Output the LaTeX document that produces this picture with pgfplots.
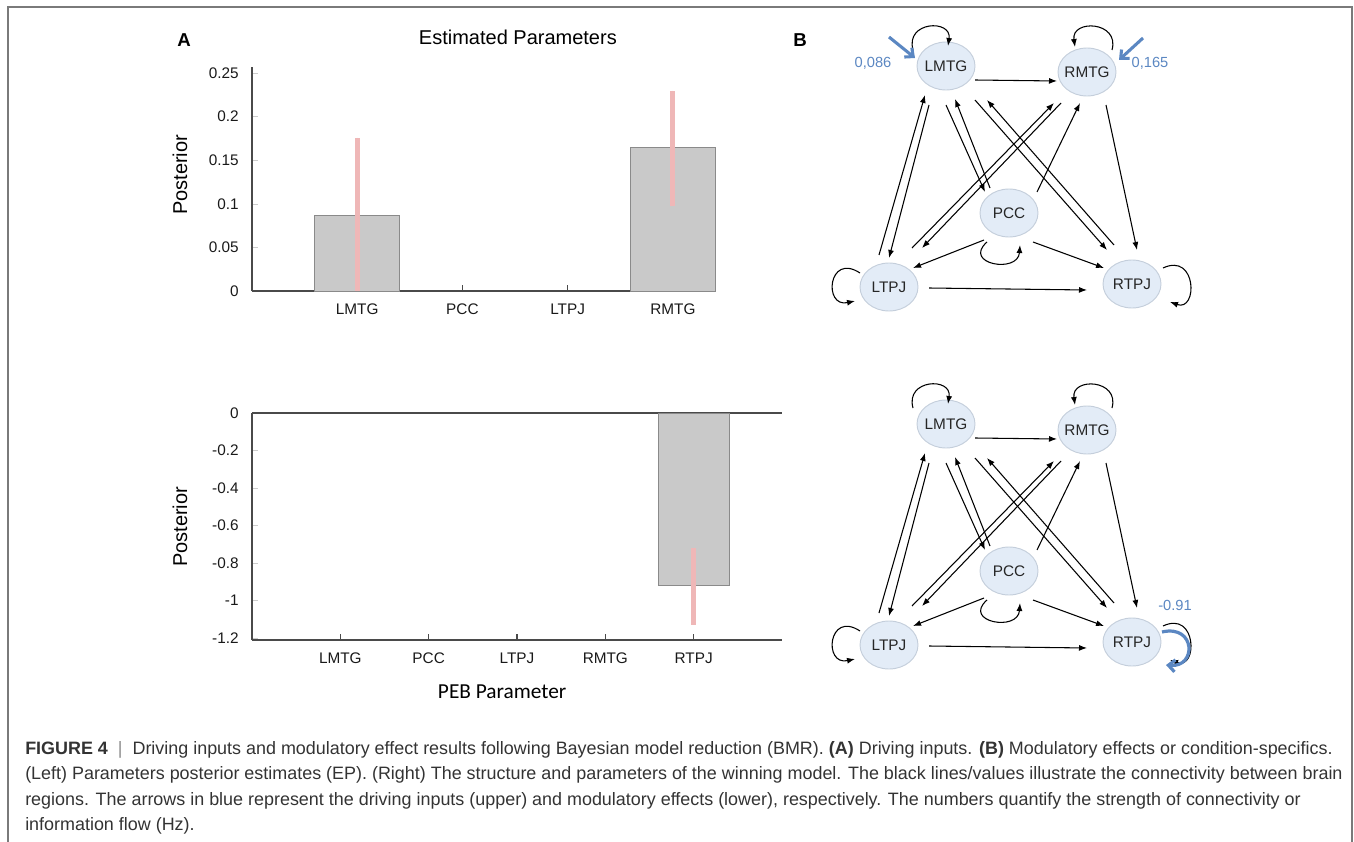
\documentclass[border=0pt]{standalone}
\usepackage{pgfplots}
\pgfplotsset{compat=1.18}
\usepackage{fontspec}
\setmainfont{Liberation Sans}
\newfontfamily\calibri{Carlito}
\usetikzlibrary{arrows.meta}

\definecolor{bargray}{HTML}{C9C9C9}
\definecolor{baredge}{HTML}{8A8A8A}
\definecolor{errpink}{HTML}{EFB7B7}
\definecolor{axisgray}{HTML}{4A4A4A}
\definecolor{nodefill}{HTML}{E3ECF7}
\definecolor{nodeedge}{HTML}{C4CEDB}
\definecolor{inblue}{HTML}{5B87C2}
\definecolor{captext}{HTML}{333333}
\definecolor{framegray}{HTML}{7A7A7A}

% one picture pixel = 0.75pt
\pgfplotsset{
  barchart/.style={
    scale only axis,
    axis line style={axisgray, line width=0.9pt, -},
    every tick/.style={axisgray, line width=0.8pt},
    ytick style={black!20, line width=0.4pt},
    tick label style={font=\fontsize{11.5}{13}\selectfont, text=black!90},
    yticklabel style={xshift=-6.5pt},
    xticklabel style={yshift=-6pt},
    ylabel style={font=\fontsize{15}{18}\selectfont},
    clip=false,
  },
}

\newcommand{\regionnode}[3]{%
  \filldraw[fill=nodefill, draw=nodeedge, line width=0.7pt] (#1,#2) ellipse [x radius=21.75pt, y radius=18pt];
  \node[font=\fontsize{11.5}{13}\selectfont, text=black!85] at (#1,#2) {#3};
}

\newcommand{\network}{%
  \regionnode{946}{66}{LMTG}
  \regionnode{1087}{72}{RMTG}
  \regionnode{1009}{213}{PCC}
  \regionnode{889}{287}{LTPJ}
  \regionnode{1132}{284}{RTPJ}
  \begin{scope}[line width=0.8pt, -{Latex[length=6pt,width=4.5pt]}]
    \draw (975,80) -- (1057,81);
    \draw (879,255) -- (925,95);
    \draw (929,105) -- (889,258);
    \draw (946,105) -- (985,192);
    \draw (990,188) -- (955,99);
    \draw (975,100) -- (1107,250);
    \draw (1114,245) -- (987,100);
    \draw (912,248) -- (1054,103);
    \draw (1061,103) -- (922,248);
    \draw (1037,192) -- (1080,103);
    \draw (1106,105) -- (1137,250);
    \draw (984,240) -- (913,268);
    \draw (1033,242) -- (1104,268);
    \draw (929,288) -- (1087,290);
    % self connections
    \draw (913,50) .. controls (905,21) and (952,19) .. (948,46);
    \draw (1112,50) .. controls (1120,21) and (1071,19) .. (1075,47);
    \draw (860,273) .. controls (828,252) and (823,308) .. (855,301);
    \draw (1163,268) .. controls (1197,252) and (1198,312) .. (1170,302);
    \draw (987,242) .. controls (962,264) and (1018,274) .. (1020,245);
  \end{scope}
}

\begin{document}
\begin{tikzpicture}[x=0.75pt, y=-0.75pt]
\useasboundingbox (0,0) rectangle (1354,842);
\draw[framegray, line width=1.3pt] (8,842) -- (8,7) -- (1352,7) -- (1352,842);

\node[font=\fontsize{14}{16}\selectfont\bfseries] at (184,40) {A};
\node[font=\fontsize{14}{16}\selectfont\bfseries] at (800,40) {B};

\begin{scope}[x=1pt, y=1pt]
% (A) driving inputs: axis box from (252,67) to (716,291) px
\begin{axis}[
  barchart,
  at={(189pt,-218.25pt)}, anchor=south west,
  width=348pt, height=168pt,
  xmin=0, xmax=4.41, ymin=0, ymax=0.257,
  axis x line*=bottom, axis y line*=left,
  tick align=inside, major tick length=4.5pt,
  xtick={1,2,3,4}, xticklabels={LMTG,PCC,LTPJ,RMTG},
  ytick={0,0.05,0.1,0.15,0.2,0.25},
  yticklabels={0,0.05,0.1,0.15,0.2,0.25},
  title={Estimated Parameters},
  title style={at={(axis description cs:0.573,1)}, anchor=base, yshift=11pt,
    font=\fontsize{15}{18}\selectfont},
  ylabel={Posterior},
  ylabel style={at={(axis description cs:-0.155,0.518)}, anchor=center},
]
\addplot[ybar, bar width=63.75pt, fill=bargray, draw=baredge, line width=0.6pt,
  error bars/.cd, y dir=both, y explicit, error mark=none,
  error bar style={errpink, line width=3.6pt}]
  coordinates {
    (1,0.087) += (0,0.089) -= (0,0.087)
    (4,0.165) += (0,0.065) -= (0,0.067)
  };
\end{axis}

% (B) modulatory effects: axis box from (252,413) to (782,640) px
\begin{axis}[
  barchart,
  at={(189pt,-480pt)}, anchor=south west,
  width=397.5pt, height=170.25pt,
  xmin=0, xmax=6, ymin=-1.21, ymax=0,
  axis x line=box, axis y line*=left,
  xtick pos=bottom,
  tick align=inside, major tick length=4.5pt,
  xtick={1,2,3,4,5}, xticklabels={LMTG,PCC,LTPJ,RMTG,RTPJ},
  ytick={0,-0.2,-0.4,-0.6,-0.8,-1,-1.2},
  yticklabels={0,-0.2,-0.4,-0.6,-0.8,-1,-1.2},
  ylabel={Posterior},
  ylabel style={at={(axis description cs:-0.136,0.498)}, anchor=center},
  xlabel={PEB Parameter},
  xlabel style={at={(axis description cs:0.472,-0.229)}, anchor=center,
    font=\calibri\fontsize{16}{19}\selectfont},
]
\addplot[ybar, bar width=53.25pt, fill=bargray, draw=baredge, line width=0.6pt,
  error bars/.cd, y dir=both, y explicit, error mark=none,
  error bar style={errpink, line width=3.6pt}]
  coordinates {
    (5,-0.92) += (0,0.20) -= (0,0.21)
  };
\end{axis}
\end{scope}

% network diagrams
\network
\draw[inblue, line width=2.3pt, -{Straight Barb[length=5pt,width=9pt]}] (889,37) -- (915,58);
\draw[inblue, line width=2.3pt, -{Straight Barb[length=5pt,width=9pt]}] (1143,38) -- (1119,60);
\node[inblue, font=\fontsize{11}{13}\selectfont] at (873,63) {0,086};
\node[inblue, font=\fontsize{11}{13}\selectfont] at (1150,63) {0,165};

\begin{scope}[shift={(0,358)}]
\network
\end{scope}
\draw[inblue, line width=2.4pt, -{Straight Barb[length=5pt,width=9pt]}]
  (1162,632) .. controls (1196,624) and (1197,668) .. (1166,665);
\node[inblue, font=\fontsize{11}{13}\selectfont] at (1175,605) {-0.91};

% caption
\begin{scope}[every node/.style={anchor=base west, inner sep=0pt, text=captext,
    font=\fontsize{13.45}{15}\selectfont}]
\node at (25,754) {\textbf{FIGURE 4}\ \ {\color{black!45}|}\ \ Driving inputs and modulatory effect results following Bayesian model reduction (BMR). \textbf{(A)} Driving inputs. \textbf{(B)} Modulatory effects or condition-specifics.};
\node at (25,779.5) {(Left) Parameters posterior estimates (EP). (Right) The structure and parameters of the winning model. The black lines/values illustrate the connectivity between brain};
\node at (25,805) {regions. The arrows in blue represent the driving inputs (upper) and modulatory effects (lower), respectively. The numbers quantify the strength of connectivity or};
\node at (25,830.5) {information flow (Hz).};
\end{scope}
\end{tikzpicture}
\end{document}
